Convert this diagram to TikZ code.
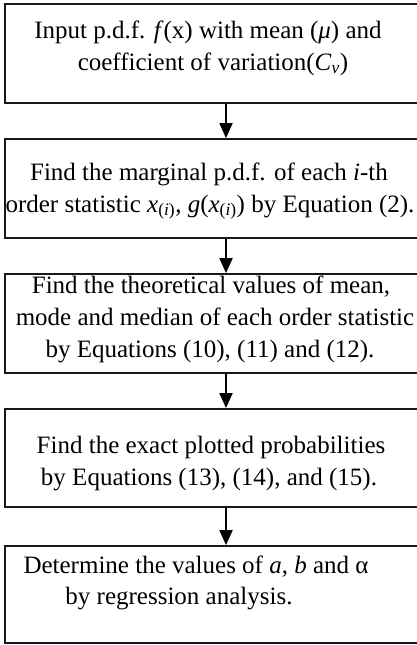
\documentclass[tikz,border=0pt]{standalone}
\usepackage{fontspec}
\setmainfont{Liberation Serif}
\usetikzlibrary{arrows.meta}
\begin{document}
\begin{tikzpicture}[x=1pt,y=-1pt,
  box/.style={draw=black!90, line width=1.8pt, minimum width=442pt, inner sep=0pt, rectangle},
  txt/.style={anchor=base, inner sep=0pt, font=\fontsize{25}{32}\selectfont},
  arr/.style={draw=black, line width=1.8pt, -{Triangle[width=13pt,length=15pt]}}]
\fill[white] (0,0) rectangle (417,645);
\useasboundingbox (0,0) rectangle (417,645);
\node[box, minimum height=99pt] (b1) at (226,53.5) {};
\node[box, minimum height=99pt] (b2) at (226,188.5) {};
\node[box, minimum height=99pt] (b3) at (226,323.5) {};
\node[box, minimum height=98pt] (b4) at (226,458) {};
\node[box, minimum height=97pt] (b5) at (226,594.5) {};
\draw[arr] (b1.south) -- (b2.north);
\draw[arr] (b2.south) -- (b3.north);
\draw[arr] (b3.south) -- (b4.north);
\draw[arr] (b4.south) -- (b5.north);
\node[txt] (t1a) at (208,38) {Input p.d.f. \textit{f}(x) with mean (\textit{μ}) and};
\node[txt] (t1b) at (213,70) {coefficient of variation(\textit{C}\textsubscript{\textit{v}})};
\node[txt] (t2a) at (209,180) {Find the marginal p.d.f. of each \textit{i}-th};
\node[txt] (t2b) at (210,212) {order statistic \textit{x}\textsubscript{(\textit{i})}, \textit{g}(\textit{x}\textsubscript{(\textit{i})}) by Equation (2).};
\node[txt] (t3a) at (211,293) {Find the theoretical values of mean,};
\node[txt] (t3b) at (215,325) {mode and median of each order statistic};
\node[txt] (t3c) at (210,357) {by Equations (10), (11) and (12).};
\node[txt] (t4a) at (211,453) {Find the exact plotted probabilities};
\node[txt] (t4b) at (209,485) {by Equations (13), (14), and (15).};
\node[txt] (t5a) at (196,573) {Determine the values of \textit{a}, \textit{b} and α};
\node[txt] (t5b) at (179,604) {by regression analysis.};
\end{tikzpicture}
\end{document}
